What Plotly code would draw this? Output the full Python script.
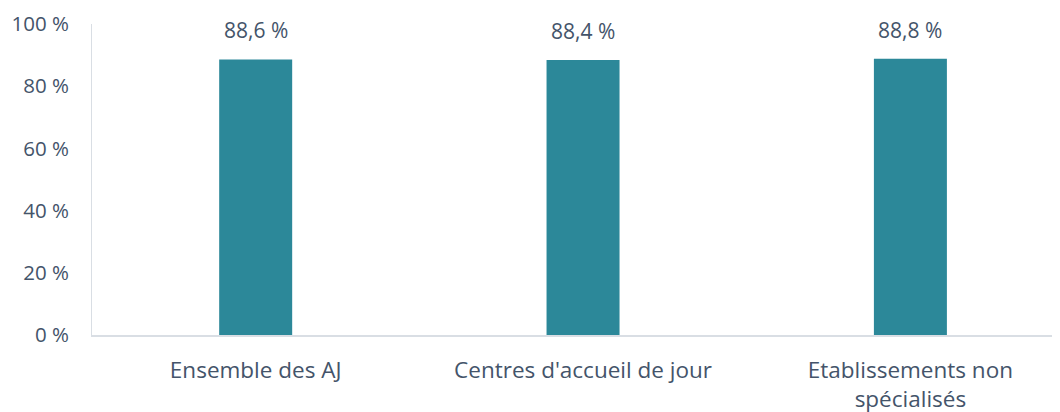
import plotly.graph_objects as go

categories = ["Ensemble des AJ", "Centres d'accueil de jour", "Etablissements non<br>spécialisés"]
values = [88.6, 88.4, 88.8]
tick_values = [0, 20, 40, 60, 80, 100]
tick_labels = ["0 %", "20 %", "40 %", "60 %", "80 %", "100 %"]

BAR = "#2c8899"
TXT = "#44546a"
AX = "#d9dee4"
FONT = "Open Sans"

value_labels = [f"{v:.1f}".replace(".", ",") + " %" for v in values]

fig = go.Figure()
fig.add_trace(go.Bar(
    x=categories, y=values, width=0.223,
    marker=dict(color=BAR, line=dict(width=0)),
    hoverinfo="skip",
))

for c, v, t in zip(categories, values, value_labels):
    fig.add_annotation(
        x=c, y=v, text=t, showarrow=False, yanchor="bottom", yshift=13,
        font=dict(family=FONT, size=21, color=TXT),
    )

# page body has an 8px default margin: figure spans x 8..1060, y 8..412
fig.update_layout(
    width=1052, height=404,
    margin=dict(l=84, r=0, t=16, b=77, autoexpand=False),
    paper_bgcolor="white", plot_bgcolor="white",
    showlegend=False,
    font=dict(family=FONT, color=TXT),
    xaxis=dict(
        type="category", range=[-0.5, 2.457], automargin=False,
        showline=True, linecolor=AX, linewidth=2,
        showgrid=False, ticks="", ticklabelstandoff=14,
        tickfont=dict(family=FONT, size=22.5, color=TXT),
        fixedrange=True,
    ),
    yaxis=dict(
        range=[0, 100], tickvals=tick_values, ticktext=tick_labels, automargin=False,
        showline=True, linecolor=AX, linewidth=1,
        showgrid=False, zeroline=False, ticks="", ticklabelstandoff=18,
        tickfont=dict(family=FONT, size=20.5, color=TXT),
        fixedrange=True,
    ),
)

fig.write_html("out.html", config={"displayModeBar": False})
